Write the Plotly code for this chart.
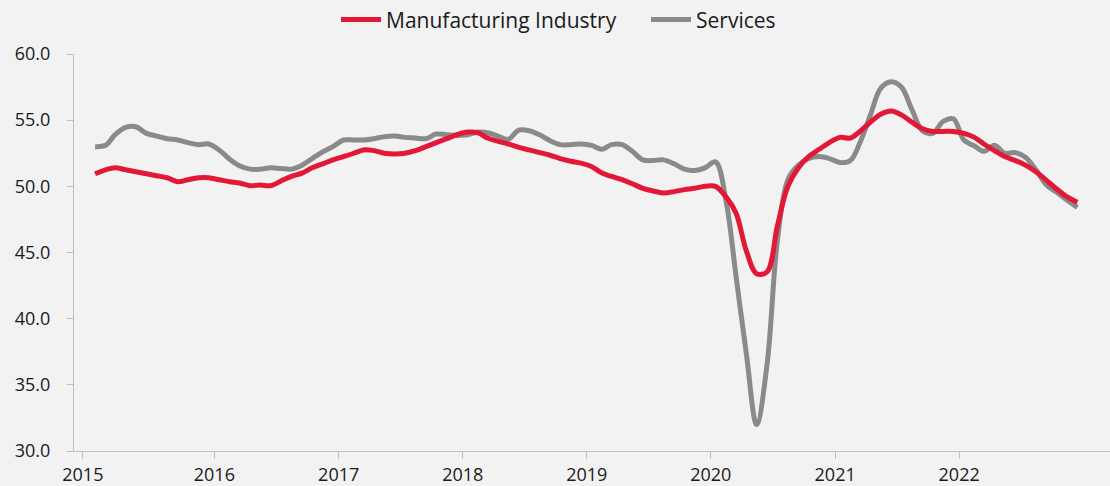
import pandas as pd
import plotly.graph_objects as go

# Monthly data, Jan 2015 - Dec 2022
months = pd.date_range("2015-01-01", periods=96, freq="MS") + pd.Timedelta(days=14)

services = [
    53.0, 53.1, 53.9, 54.45, 54.5, 54.0, 53.8, 53.6, 53.5, 53.3, 53.15, 53.2,
    52.75, 52.05, 51.55, 51.3, 51.3, 51.4, 51.35, 51.3, 51.6, 52.1, 52.6, 53.0,
    53.5, 53.5, 53.5, 53.6, 53.75, 53.8, 53.7, 53.65, 53.6, 53.95, 53.9, 53.85,
    53.9, 54.1, 54.05, 53.8, 53.55, 54.25, 54.2, 53.9, 53.45, 53.15, 53.15, 53.2,
    53.1, 52.8, 53.15, 53.15, 52.65, 52.0, 51.95, 52.0, 51.7, 51.3, 51.2, 51.4,
    51.85, 48.9, 43.3, 37.3, 32.0, 36.6, 45.9, 50.5, 51.6, 52.1, 52.25, 52.1,
    51.8, 51.95, 53.3, 55.4, 57.4, 57.9, 57.5, 55.8, 54.2, 54.0, 54.9, 55.1,
    53.5, 53.05, 52.65, 53.1, 52.5, 52.55, 52.2, 51.25, 50.1, 49.55, 48.95, 48.4,
]

manufacturing = [
    50.95, 51.25, 51.4, 51.25, 51.1, 50.95, 50.8, 50.65, 50.35, 50.5, 50.65, 50.65,
    50.5, 50.35, 50.25, 50.05, 50.1, 50.05, 50.4, 50.75, 51.0, 51.4, 51.7, 52.0,
    52.25, 52.5, 52.75, 52.7, 52.5, 52.45, 52.5, 52.7, 53.0, 53.3, 53.6, 53.9,
    54.1, 54.05, 53.65, 53.4, 53.2, 52.95, 52.75, 52.55, 52.35, 52.1, 51.9, 51.75,
    51.5, 51.0, 50.75, 50.5, 50.2, 49.85, 49.65, 49.5, 49.6, 49.75, 49.85, 50.0,
    50.0, 49.2, 48.0, 45.1, 43.4, 43.55, 47.0, 50.0, 51.4, 52.25, 52.8, 53.3,
    53.7, 53.65, 54.15, 54.85, 55.45, 55.7, 55.4, 54.85, 54.35, 54.15, 54.15, 54.15,
    54.0, 53.7, 53.2, 52.7, 52.25, 51.95, 51.6, 51.1, 50.45, 49.8, 49.2, 48.8,
]

x_tickvals = ["2014-12-10", "2016-01-01", "2017-01-01", "2018-01-01",
              "2019-01-01", "2020-01-01", "2021-01-01", "2022-01-01"]
x_ticktext = ["2015", "2016", "2017", "2018", "2019", "2020", "2021", "2022"]
y_tickvals = [30, 35, 40, 45, 50, 55, 60]

FONT = "Open Sans"
RED = "#E31837"
GRAY = "#8A8A8A"
AXIS = "#BFBFBF"

fig = go.Figure()
fig.add_trace(go.Scatter(
    x=months, y=services, name="Services", mode="lines",
    line=dict(color=GRAY, width=5, shape="spline", smoothing=1.0),
    legendrank=2,
))
fig.add_trace(go.Scatter(
    x=months, y=manufacturing, name="Manufacturing Industry", mode="lines",
    line=dict(color=RED, width=5, shape="spline", smoothing=1.0),
    legendrank=1,
))

fig.update_layout(
    width=1110, height=486,
    margin=dict(l=74, r=0, t=54, b=35),
    paper_bgcolor="#F2F2F2", plot_bgcolor="#F2F2F2",
    font=dict(family=FONT, color="#1a1a1a", size=18),
    showlegend=True,
    legend=dict(
        orientation="h", xref="container", yref="container",
        x=0.3027, xanchor="left", y=0.959, yanchor="middle",
        font=dict(family=FONT, size=21, color="#1a1a1a"),
        bgcolor="rgba(0,0,0,0)", itemwidth=40,
        entrywidth=255, entrywidthmode="pixels",
    ),
    xaxis=dict(
        type="date", range=["2014-11-14", "2023-03-21"],
        tickvals=x_tickvals, ticktext=x_ticktext,
        showgrid=False, zeroline=False,
        showline=True, linecolor=AXIS, linewidth=1,
        ticks="outside", ticklen=7, tickcolor=AXIS,
        tickfont=dict(family=FONT, size=18, color="#1a1a1a"),
    ),
    yaxis=dict(
        range=[30, 60], tickvals=y_tickvals, tickformat=".1f",
        showgrid=False, zeroline=False,
        showline=True, linecolor=AXIS, linewidth=1,
        ticks="outside", ticklen=6, tickcolor=AXIS,
        ticklabelstandoff=13,
        tickfont=dict(family=FONT, size=18, color="#1a1a1a"),
    ),
)

fig.write_html("out.html")
